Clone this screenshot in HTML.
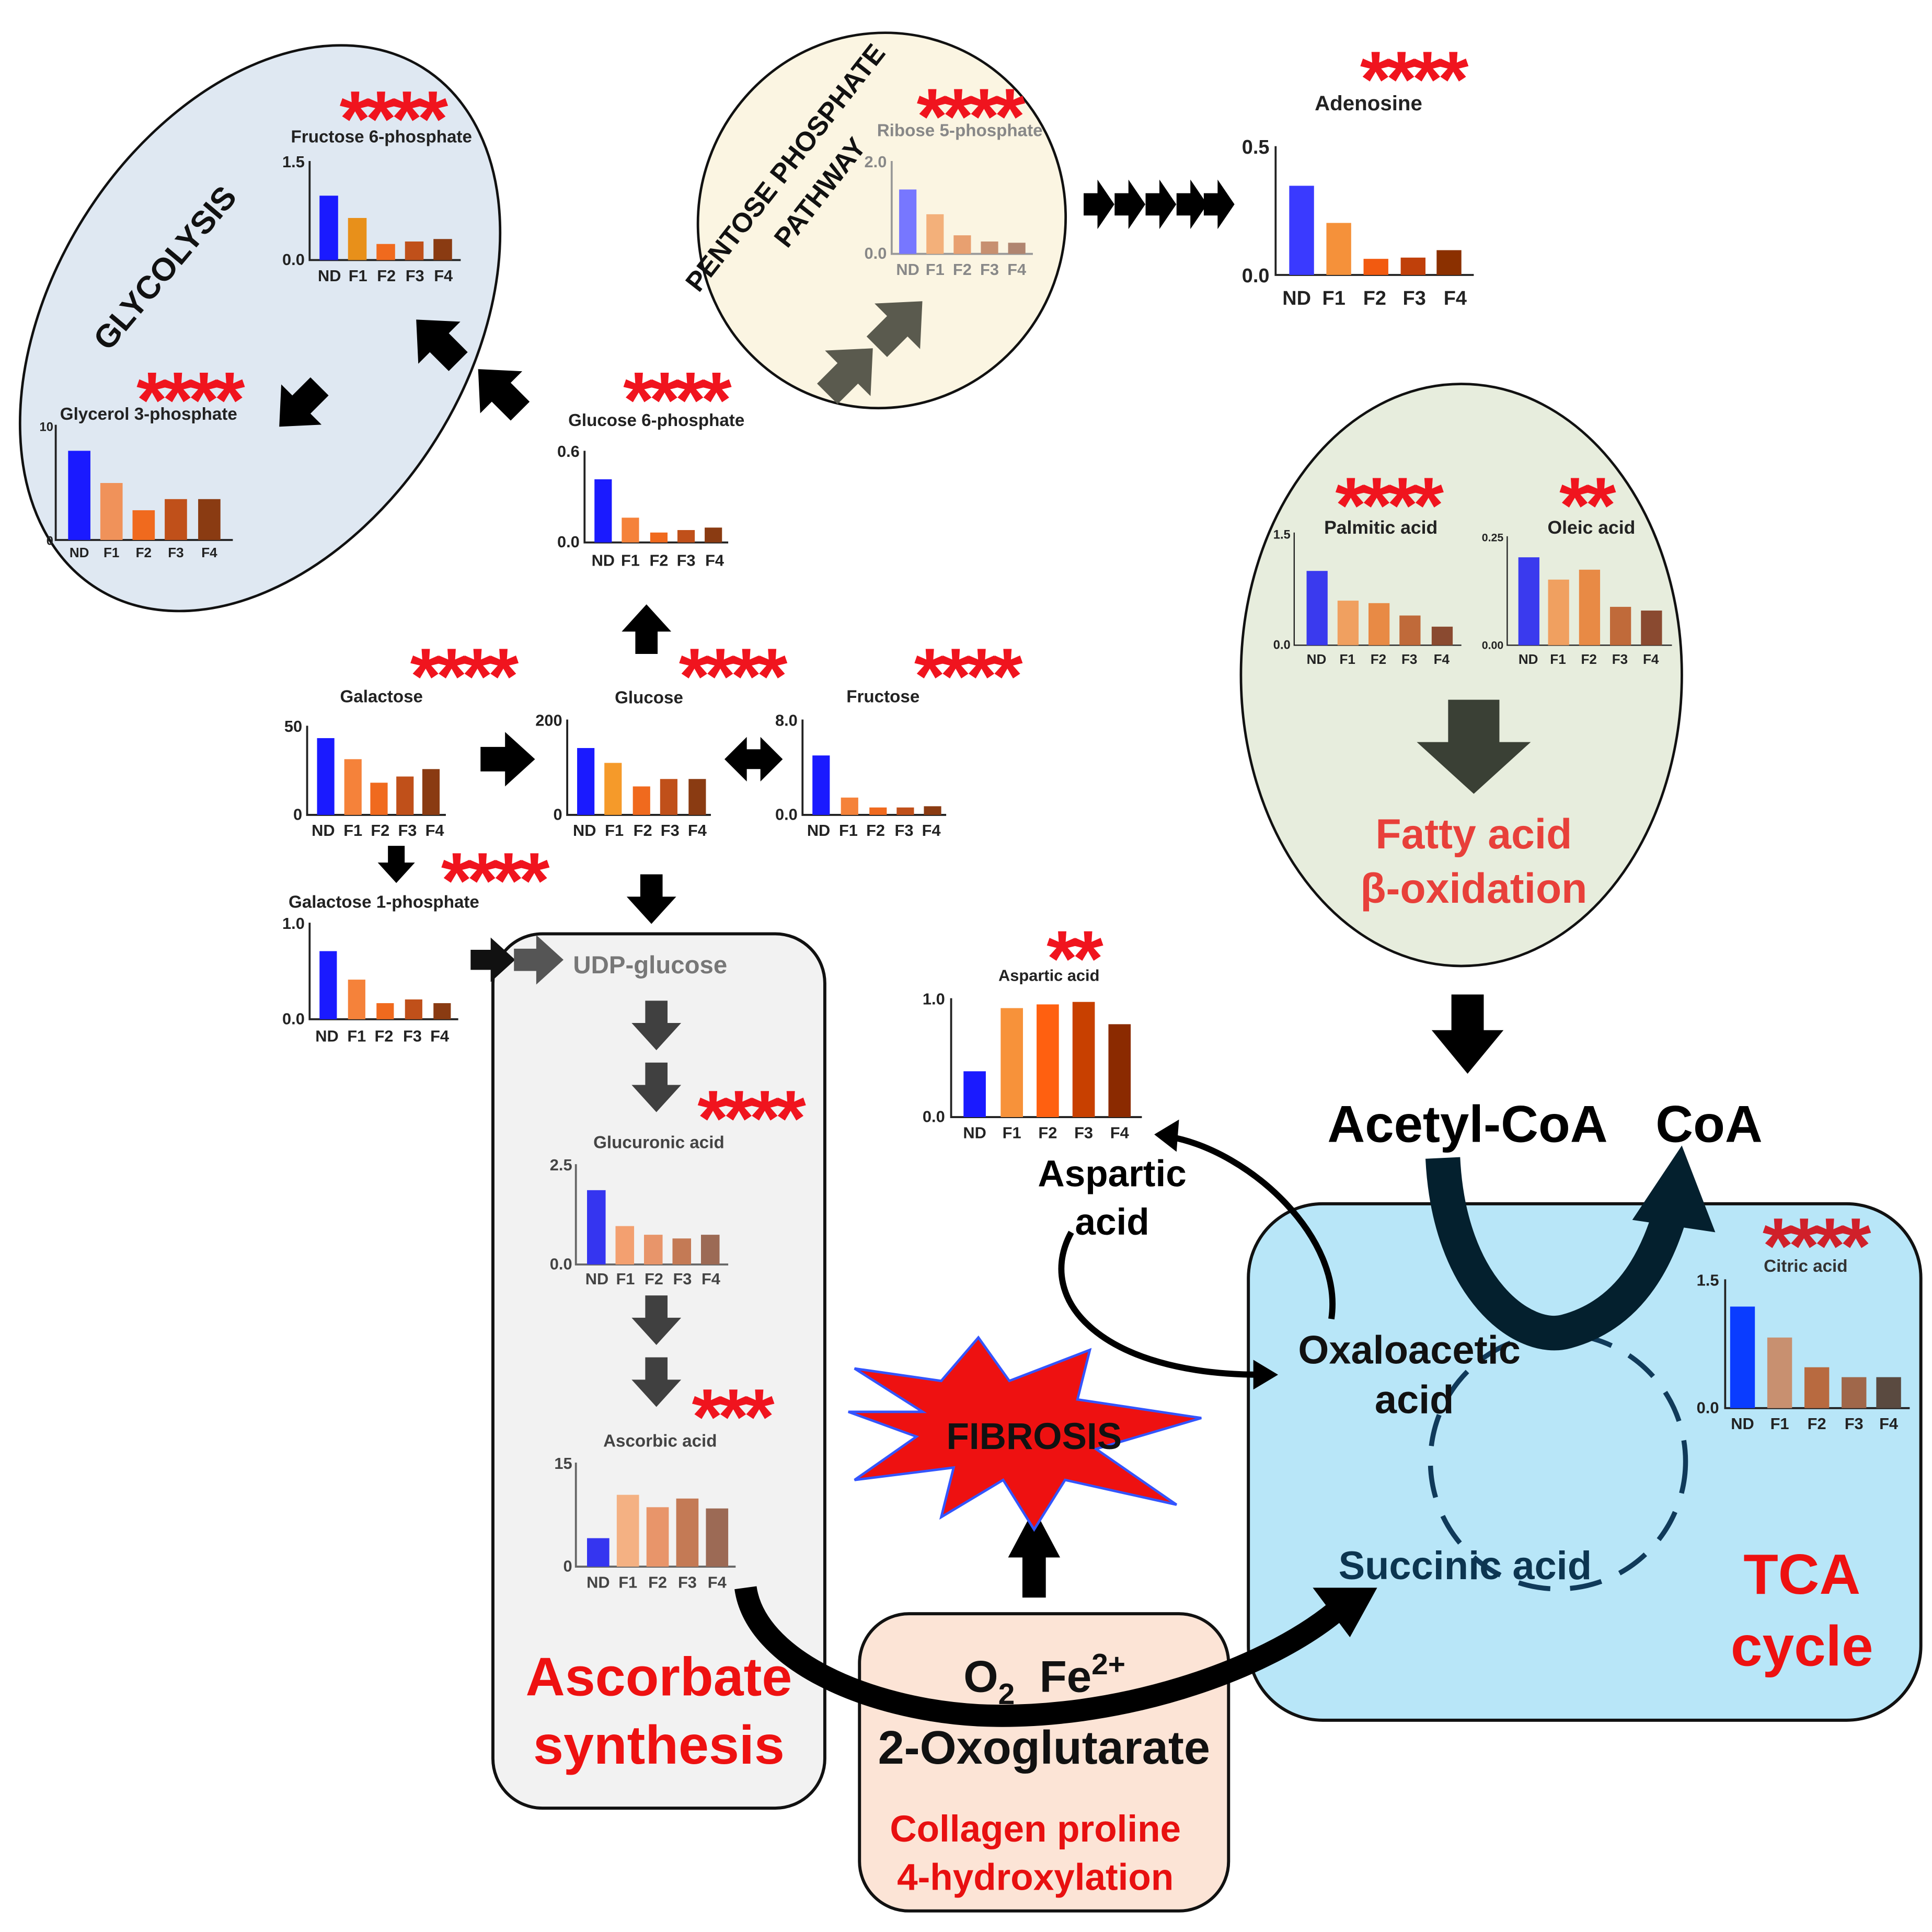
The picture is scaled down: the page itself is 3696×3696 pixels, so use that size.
<!DOCTYPE html>
<html><head><meta charset="utf-8"><style>
html,body{margin:0;padding:0;background:#fff}
svg{display:block}
text{font-family:"Liberation Sans",Arial,sans-serif;font-weight:bold}
.t{font-size:14px;text-anchor:middle;fill:#222}
.l{font-size:13px;text-anchor:middle;fill:#222}
.y{font-size:13px;text-anchor:end;fill:#222}
.s{font-size:64px;fill:#f0141e;text-anchor:middle;letter-spacing:-4px}
.ax{stroke:#222;stroke-width:1.6;fill:none}
</style></head><body>
<svg width="3696" height="3696" viewBox="0 0 1560 1560" xmlns="http://www.w3.org/2000/svg">
<defs>
<polygon id="ar" points="0,-9 18,-9 18,-20 40,0 18,20 18,9 0,9"/>
</defs>
<ellipse cx="210" cy="265" rx="168" ry="248" transform="rotate(32 210 265)" fill="#dfe8f2" stroke="#111" stroke-width="2"/>
<ellipse cx="712" cy="178" rx="148" ry="152" transform="rotate(20 712 178)" fill="#fbf5e2" stroke="#111" stroke-width="2"/>
<ellipse cx="1180" cy="545" rx="178" ry="235" fill="#e7eddd" stroke="#111" stroke-width="2"/>
<rect x="398" y="754" width="268" height="706" rx="40" fill="#f2f2f2" stroke="#111" stroke-width="2.5"/>
<rect x="1008" y="972" width="543" height="417" rx="60" fill="#b8e6f8" stroke="#111" stroke-width="2.5"/>
<circle cx="1258" cy="1180" r="103" fill="none" stroke="#103a5a" stroke-width="4" stroke-dasharray="26 16"/>

<text class="s" x="316" y="118">****</text><text class="t" x="308" y="115">Fructose 6-phosphate</text>
<path class="ax" d="M250,130V210H372"/><text class="y" x="246" y="135">1.5</text><text class="y" x="246" y="214">0.0</text>
<rect x="258" y="158" width="15" height="52" fill="#1a1aff"/><rect x="281" y="176" width="15" height="34" fill="#e8901a"/><rect x="304" y="197" width="15" height="13" fill="#f06a1e"/><rect x="327" y="195" width="15" height="15" fill="#c0501a"/><rect x="350" y="193" width="15" height="17" fill="#8a3b12"/>
<text class="l" x="266" y="227">ND</text><text class="l" x="289" y="227">F1</text><text class="l" x="312" y="227">F2</text><text class="l" x="335" y="227">F3</text><text class="l" x="358" y="227">F4</text>

<text class="s" x="152" y="345">****</text><text class="t" x="120" y="339">Glycerol 3-phosphate</text>
<path class="ax" d="M45,343V436H188"/><text class="y" x="43" y="348" style="font-size:10px">10</text><text class="y" x="43" y="440" style="font-size:10px">0</text>
<rect x="55" y="364" width="18" height="72" fill="#1a1aff"/><rect x="81" y="390" width="18" height="46" fill="#f0925a"/><rect x="107" y="412" width="18" height="24" fill="#f06a1e"/><rect x="133" y="403" width="18" height="33" fill="#c0501a"/><rect x="160" y="403" width="18" height="33" fill="#8a3b12"/>
<text class="l" x="64" y="450" style="font-size:11px">ND</text><text class="l" x="90" y="450" style="font-size:11px">F1</text><text class="l" x="116" y="450" style="font-size:11px">F2</text><text class="l" x="142" y="450" style="font-size:11px">F3</text><text class="l" x="169" y="450" style="font-size:11px">F4</text>

<text x="140" y="222" transform="rotate(-50 140 222)" style="font-size:26px;text-anchor:middle;fill:#111">GLYCOLYSIS</text>

<text x="640" y="140" transform="rotate(-52 640 140)" style="font-size:22px;text-anchor:middle;fill:#111">PENTOSE PHOSPHATE</text>
<text x="668" y="160" transform="rotate(-52 668 160)" style="font-size:22px;text-anchor:middle;fill:#111">PATHWAY</text>
<text class="s" x="782" y="116">****</text><text class="t" x="775" y="110" style="fill:#888">Ribose 5-phosphate</text>
<path class="ax" d="M720,130V205H834" style="stroke:#999"/><text class="y" x="716" y="135" style="fill:#888">2.0</text><text class="y" x="716" y="209" style="fill:#888">0.0</text>
<rect x="726" y="153" width="14" height="52" fill="#7777ff"/><rect x="748" y="173" width="14" height="32" fill="#f3b07a"/><rect x="770" y="190" width="14" height="15" fill="#e8a070"/><rect x="792" y="195" width="14" height="10" fill="#c79070"/><rect x="814" y="196" width="14" height="9" fill="#b08570"/>
<text class="l" x="733" y="222" style="fill:#888">ND</text><text class="l" x="755" y="222" style="fill:#888">F1</text><text class="l" x="777" y="222" style="fill:#888">F2</text><text class="l" x="799" y="222" style="fill:#888">F3</text><text class="l" x="821" y="222" style="fill:#888">F4</text>

<text class="s" x="1140" y="86">****</text><text class="t" x="1105" y="89" style="font-size:17px">Adenosine</text>
<path class="ax" d="M1030,118V222H1190"/><text class="y" x="1025" y="124" style="font-size:16px">0.5</text><text class="y" x="1025" y="228" style="font-size:16px">0.0</text>
<rect x="1041" y="150" width="20" height="72" fill="#3a3aff"/><rect x="1071" y="180" width="20" height="42" fill="#f5913a"/><rect x="1101" y="209" width="20" height="13" fill="#f25a10"/><rect x="1131" y="208" width="20" height="14" fill="#c0400a"/><rect x="1160" y="202" width="20" height="20" fill="#8b3000"/>
<text class="l" x="1047" y="246" style="font-size:16px">ND</text><text class="l" x="1077" y="246" style="font-size:16px">F1</text><text class="l" x="1110" y="246" style="font-size:16px">F2</text><text class="l" x="1142" y="246" style="font-size:16px">F3</text><text class="l" x="1175" y="246" style="font-size:16px">F4</text>

<text class="s" x="545" y="345">****</text><text class="t" x="530" y="344">Glucose 6-phosphate</text>
<path class="ax" d="M472,364V438H588"/><text class="y" x="468" y="369">0.6</text><text class="y" x="468" y="442">0.0</text>
<rect x="480" y="387" width="14" height="51" fill="#1a1aff"/><rect x="502" y="418" width="14" height="20" fill="#f5823a"/><rect x="525" y="430" width="14" height="8" fill="#f06a1e"/><rect x="547" y="428" width="14" height="10" fill="#c0501a"/><rect x="569" y="426" width="14" height="12" fill="#8a3b12"/>
<text class="l" x="487" y="457">ND</text><text class="l" x="509" y="457">F1</text><text class="l" x="532" y="457">F2</text><text class="l" x="554" y="457">F3</text><text class="l" x="577" y="457">F4</text>

<text class="s" x="373" y="568">****</text><text class="t" x="308" y="567">Galactose</text>
<path class="ax" d="M248,586V658H360"/><text class="y" x="244" y="591">50</text><text class="y" x="244" y="662">0</text>
<rect x="256" y="596" width="14" height="62" fill="#1a1aff"/><rect x="278" y="613" width="14" height="45" fill="#f5823a"/><rect x="299" y="632" width="14" height="26" fill="#f06a1e"/><rect x="320" y="627" width="14" height="31" fill="#c0501a"/><rect x="341" y="621" width="14" height="37" fill="#8a3b12"/>
<text class="l" x="261" y="675">ND</text><text class="l" x="285" y="675">F1</text><text class="l" x="307" y="675">F2</text><text class="l" x="329" y="675">F3</text><text class="l" x="351" y="675">F4</text>

<text class="s" x="590" y="568">****</text><text class="t" x="524" y="568">Glucose</text>
<path class="ax" d="M458,581V658H574"/><text class="y" x="454" y="586">200</text><text class="y" x="454" y="662">0</text>
<rect x="466" y="604" width="14" height="54" fill="#1a1aff"/><rect x="488" y="616" width="14" height="42" fill="#f59a2a"/><rect x="511" y="635" width="14" height="23" fill="#f06a1e"/><rect x="533" y="629" width="14" height="29" fill="#c0501a"/><rect x="556" y="629" width="14" height="29" fill="#8a3b12"/>
<text class="l" x="472" y="675">ND</text><text class="l" x="496" y="675">F1</text><text class="l" x="519" y="675">F2</text><text class="l" x="541" y="675">F3</text><text class="l" x="563" y="675">F4</text>

<text class="s" x="780" y="568">****</text><text class="t" x="713" y="567">Fructose</text>
<path class="ax" d="M648,581V658H764"/><text class="y" x="644" y="586">8.0</text><text class="y" x="644" y="662">0.0</text>
<rect x="656" y="610" width="14" height="48" fill="#1a1aff"/><rect x="679" y="644" width="14" height="14" fill="#f5823a"/><rect x="702" y="652" width="14" height="6" fill="#f06a1e"/><rect x="724" y="652" width="14" height="6" fill="#c0501a"/><rect x="746" y="651" width="14" height="7" fill="#8a3b12"/>
<text class="l" x="661" y="675">ND</text><text class="l" x="685" y="675">F1</text><text class="l" x="707" y="675">F2</text><text class="l" x="730" y="675">F3</text><text class="l" x="752" y="675">F4</text>

<text class="s" x="398" y="733">****</text><text class="t" x="310" y="733">Galactose 1-phosphate</text>
<path class="ax" d="M250,745V823H370"/><text class="y" x="246" y="750">1.0</text><text class="y" x="246" y="827">0.0</text>
<rect x="258" y="768" width="14" height="55" fill="#1a1aff"/><rect x="281" y="791" width="14" height="32" fill="#f5823a"/><rect x="304" y="810" width="14" height="13" fill="#f06a1e"/><rect x="327" y="807" width="14" height="16" fill="#c0501a"/><rect x="350" y="810" width="14" height="13" fill="#8a3b12"/>
<text class="l" x="264" y="841">ND</text><text class="l" x="288" y="841">F1</text><text class="l" x="310" y="841">F2</text><text class="l" x="333" y="841">F3</text><text class="l" x="355" y="841">F4</text>

<text class="s" x="866" y="796">**</text><text class="t" x="847" y="792" style="font-size:13px">Aspartic acid</text>
<path class="ax" d="M768,806V902H922"/><text class="y" x="763" y="811">1.0</text><text class="y" x="763" y="906">0.0</text>
<rect x="778" y="865" width="18" height="37" fill="#1a1aff"/><rect x="808" y="814" width="18" height="88" fill="#f7923a"/><rect x="837" y="811" width="18" height="91" fill="#ff6010"/><rect x="866" y="809" width="18" height="93" fill="#c84000"/><rect x="895" y="827" width="18" height="75" fill="#8b2a00"/>
<text class="l" x="787" y="919">ND</text><text class="l" x="817" y="919">F1</text><text class="l" x="846" y="919">F2</text><text class="l" x="875" y="919">F3</text><text class="l" x="904" y="919">F4</text>

<text class="s" x="1120" y="430">****</text><text class="t" x="1115" y="431" style="font-size:15px">Palmitic acid</text>
<path class="ax" d="M1045,430V521H1180" style="stroke-width:1"/><text class="y" x="1042" y="435" style="font-size:10px">1.5</text><text class="y" x="1042" y="524" style="font-size:10px">0.0</text>
<rect x="1055" y="461" width="17" height="60" fill="#3a3aee"/><rect x="1080" y="485" width="17" height="36" fill="#f0a060"/><rect x="1105" y="487" width="17" height="34" fill="#e88a45"/><rect x="1130" y="497" width="17" height="24" fill="#c06a3a"/><rect x="1156" y="506" width="17" height="15" fill="#8a4a30"/>
<text class="l" x="1063" y="536" style="font-size:11px">ND</text><text class="l" x="1088" y="536" style="font-size:11px">F1</text><text class="l" x="1113" y="536" style="font-size:11px">F2</text><text class="l" x="1138" y="536" style="font-size:11px">F3</text><text class="l" x="1164" y="536" style="font-size:11px">F4</text>

<text class="s" x="1280" y="430">**</text><text class="t" x="1285" y="431" style="font-size:15px">Oleic acid</text>
<path class="ax" d="M1217,433V521H1350" style="stroke-width:1"/><text class="y" x="1214" y="437" style="font-size:9px">0.25</text><text class="y" x="1214" y="524" style="font-size:9px">0.00</text>
<rect x="1226" y="450" width="17" height="71" fill="#3a3aee"/><rect x="1250" y="468" width="17" height="53" fill="#f0a060"/><rect x="1275" y="460" width="17" height="61" fill="#e88a45"/><rect x="1300" y="490" width="17" height="31" fill="#c06a3a"/><rect x="1325" y="493" width="17" height="28" fill="#8a4a30"/>
<text class="l" x="1234" y="536" style="font-size:11px">ND</text><text class="l" x="1258" y="536" style="font-size:11px">F1</text><text class="l" x="1283" y="536" style="font-size:11px">F2</text><text class="l" x="1308" y="536" style="font-size:11px">F3</text><text class="l" x="1333" y="536" style="font-size:11px">F4</text>

<text x="525" y="786" style="font-size:20px;text-anchor:middle;fill:#777">UDP-glucose</text>
<use href="#ar" transform="translate(380,775) scale(0.9)" fill="#111"/>
<use href="#ar" transform="translate(415,775) scale(1)" fill="#555"/>
<g fill="#404040">
<use href="#ar" transform="translate(530,808) rotate(90) scale(1)"/>
<use href="#ar" transform="translate(530,858) rotate(90) scale(1)"/>
<use href="#ar" transform="translate(530,1046) rotate(90) scale(1)"/>
<use href="#ar" transform="translate(530,1096) rotate(90) scale(1)"/>
</g>

<text class="s" x="605" y="925">****</text><text class="t" x="532" y="927" style="fill:#444">Glucuronic acid</text>
<path class="ax" d="M465,940V1021H588" style="stroke:#666"/><text class="y" x="462" y="945" style="fill:#444">2.5</text><text class="y" x="462" y="1025" style="fill:#444">0.0</text>
<rect x="474" y="961" width="15" height="60" fill="#3535f0"/><rect x="497" y="990" width="15" height="31" fill="#f3a070"/><rect x="520" y="997" width="15" height="24" fill="#e8956a"/><rect x="543" y="1000" width="15" height="21" fill="#c47a55"/><rect x="566" y="997" width="15" height="24" fill="#9c6a55"/>
<text class="l" x="482" y="1037" style="fill:#444">ND</text><text class="l" x="505" y="1037" style="fill:#444">F1</text><text class="l" x="528" y="1037" style="fill:#444">F2</text><text class="l" x="551" y="1037" style="fill:#444">F3</text><text class="l" x="574" y="1037" style="fill:#444">F4</text>

<text class="s" x="590" y="1166">***</text><text class="t" x="533" y="1168" style="fill:#444">Ascorbic acid</text>
<path class="ax" d="M465,1181V1265H594" style="stroke:#666"/><text class="y" x="462" y="1186" style="fill:#444">15</text><text class="y" x="462" y="1269" style="fill:#444">0</text>
<rect x="474" y="1242" width="18" height="23" fill="#3535f0"/><rect x="498" y="1207" width="18" height="58" fill="#f4b183"/><rect x="522" y="1217" width="18" height="48" fill="#e8956a"/><rect x="546" y="1210" width="18" height="55" fill="#c47a55"/><rect x="570" y="1218" width="18" height="47" fill="#9c6a55"/>
<text class="l" x="483" y="1282" style="fill:#444">ND</text><text class="l" x="507" y="1282" style="fill:#444">F1</text><text class="l" x="531" y="1282" style="fill:#444">F2</text><text class="l" x="555" y="1282" style="fill:#444">F3</text><text class="l" x="579" y="1282" style="fill:#444">F4</text>

<text class="s" x="1465" y="1028" style="fill:#d0202a">****</text><text class="t" x="1458" y="1027" style="fill:#333">Citric acid</text>
<path class="ax" d="M1393,1033V1137H1542"/><text class="y" x="1388" y="1038">1.5</text><text class="y" x="1388" y="1141">0.0</text>
<rect x="1397" y="1055" width="20" height="82" fill="#0a3cff"/><rect x="1427" y="1080" width="20" height="57" fill="#c89070"/><rect x="1457" y="1104" width="20" height="33" fill="#b86a40"/><rect x="1487" y="1112" width="20" height="25" fill="#a0674a"/><rect x="1515" y="1112" width="20" height="25" fill="#5a4a40"/>
<text class="l" x="1407" y="1154">ND</text><text class="l" x="1437" y="1154">F1</text><text class="l" x="1467" y="1154">F2</text><text class="l" x="1497" y="1154">F3</text><text class="l" x="1525" y="1154">F4</text>

<g fill="#000">
<use href="#ar" transform="translate(388,613) scale(1.1)"/>
<polygon points="585,613 603,595 603,605 614,605 614,595 632,613 614,631 614,621 603,621 603,631"/>
<use href="#ar" transform="translate(522,528) rotate(-90) scale(1)"/>
<use href="#ar" transform="translate(320,683) rotate(90) scale(0.75)"/>
<use href="#ar" transform="translate(526,706) rotate(90) scale(1)"/>
<use href="#ar" transform="translate(420,332) rotate(-135) scale(1.2)"/>
<use href="#ar" transform="translate(370,292) rotate(-135) scale(1.2)"/>
<use href="#ar" transform="translate(258,312) rotate(135) scale(1.15)"/>
<use href="#ar" transform="translate(875,165) scale(0.62,1)"/>
<use href="#ar" transform="translate(900,165) scale(0.62,1)"/>
<use href="#ar" transform="translate(925,165) scale(0.62,1)"/>
<use href="#ar" transform="translate(950,165) scale(0.62,1)"/>
<use href="#ar" transform="translate(972,165) scale(0.62,1)"/>
<use href="#ar" transform="translate(1185,803) rotate(90) scale(1.6,1.45)"/>
<use href="#ar" transform="translate(835,1290) rotate(-90) scale(1.8,1.05)"/>
</g>
<g fill="#5a5a4e">
<use href="#ar" transform="translate(668,318) rotate(-45) scale(1.3)"/>
<use href="#ar" transform="translate(708,280) rotate(-45) scale(1.3)"/>
</g>
<use href="#ar" transform="translate(1190,565) rotate(90) scale(1.9,2.3)" fill="#3a4035"/>

<path d="M1165,935 C1170,1040 1230,1085 1265,1075 C1320,1060 1340,1010 1350,975" fill="none" stroke="#04202e" stroke-width="28"/>
<polygon points="1318,985 1358,925 1385,995" fill="#04202e"/>
<path d="M1075,1065 C1085,1000 1010,930 945,918" fill="none" stroke="#000" stroke-width="5"/>
<polygon points="932,916 952,904 950,930" fill="#000"/>
<path d="M865,995 C835,1050 890,1110 1018,1110" fill="none" stroke="#000" stroke-width="5"/>
<polygon points="1032,1110 1012,1098 1012,1122" fill="#000"/>

<polygon points="690,1105 760,1115 790,1080 815,1115 880,1090 870,1130 970,1145 885,1170 950,1215 860,1195 835,1235 810,1195 760,1225 770,1185 690,1195 740,1160 685,1140 745,1140" fill="#ee1111" stroke="#3355ff" stroke-width="2"/>
<text x="835" y="1170" style="font-size:30px;text-anchor:middle;fill:#111">FIBROSIS</text>

<rect x="694" y="1303" width="298" height="240" rx="40" fill="#fce4d6" stroke="#111" stroke-width="2.5"/>
<path d="M602,1282 C610,1340 700,1380 790,1385 C900,1390 1020,1350 1080,1300" fill="none" stroke="#000" stroke-width="18"/>
<polygon points="1060,1282 1112,1282 1090,1322" fill="#000"/>
<text x="778" y="1366" style="font-size:36px;fill:#111">O<tspan dy="10" style="font-size:24px">2</tspan><tspan dx="20" dy="-10">Fe</tspan><tspan dy="-14" style="font-size:24px">2+</tspan></text>
<text x="843" y="1424" style="font-size:38px;text-anchor:middle;fill:#111">2-Oxoglutarate</text>
<text x="836" y="1487" style="font-size:30px;text-anchor:middle;fill:#e81010">Collagen proline</text>
<text x="836" y="1526" style="font-size:30px;text-anchor:middle;fill:#e81010">4-hydroxylation</text>

<text x="1185" y="922" style="font-size:42px;text-anchor:middle;fill:#000">Acetyl-CoA</text>
<text x="1380" y="922" style="font-size:42px;text-anchor:middle;fill:#000">CoA</text>
<text x="898" y="958" style="font-size:30px;text-anchor:middle;fill:#000">Aspartic</text>
<text x="898" y="997" style="font-size:30px;text-anchor:middle;fill:#000">acid</text>
<text x="1138" y="1101" style="font-size:32px;text-anchor:middle;fill:#111">Oxaloacetic</text>
<text x="1142" y="1141" style="font-size:32px;text-anchor:middle;fill:#111">acid</text>
<text x="1183" y="1275" style="font-size:32px;text-anchor:middle;fill:#0c3550">Succinic acid</text>
<text x="1455" y="1287" style="font-size:46px;text-anchor:middle;fill:#ee1111">TCA</text>
<text x="1455" y="1345" style="font-size:46px;text-anchor:middle;fill:#ee1111">cycle</text>
<text x="532" y="1369" style="font-size:44px;text-anchor:middle;fill:#ee1111">Ascorbate</text>
<text x="532" y="1424" style="font-size:44px;text-anchor:middle;fill:#ee1111">synthesis</text>
<text x="1190" y="685" style="font-size:34px;text-anchor:middle;fill:#e8403a">Fatty acid</text>
<text x="1190" y="729" style="font-size:34px;text-anchor:middle;fill:#e8403a">β-oxidation</text>
</svg>
</body></html>
